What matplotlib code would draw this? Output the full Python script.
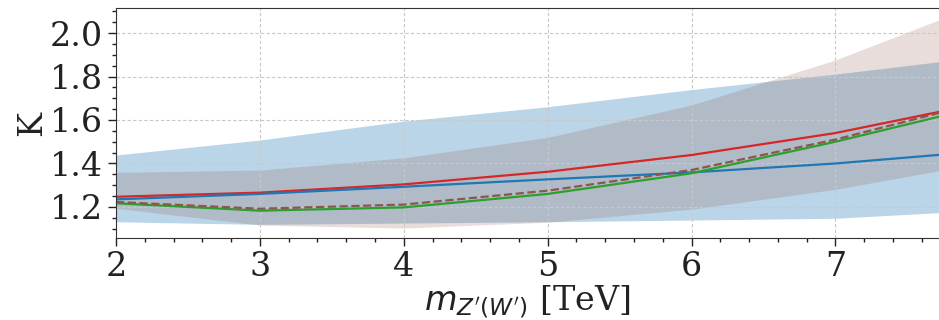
import numpy as np
import matplotlib
matplotlib.use("Agg")
import matplotlib.pyplot as plt
from matplotlib.ticker import MultipleLocator

plt.rcParams['font.family'] = 'DejaVu Serif'

# mass points [TeV]
mass = [2, 3, 4, 5, 6, 7, 8]

# K-factor curves
k_red = [1.247, 1.266, 1.304, 1.362, 1.439, 1.540, 1.675]
k_blue = [1.235, 1.260, 1.293, 1.327, 1.359, 1.400, 1.455]
k_green = [1.217, 1.183, 1.198, 1.260, 1.355, 1.500, 1.660]
k_brown = [1.223, 1.192, 1.211, 1.275, 1.370, 1.510, 1.680]

# uncertainty bands
blue_lo = [1.132, 1.120, 1.126, 1.132, 1.140, 1.148, 1.184]
blue_hi = [1.439, 1.508, 1.595, 1.661, 1.740, 1.811, 1.890]
brown_lo = [1.194, 1.117, 1.103, 1.130, 1.190, 1.281, 1.400]
brown_hi = [1.359, 1.370, 1.426, 1.520, 1.669, 1.876, 2.132]

fig = plt.figure(figsize=(9.39, 3.2), dpi=100)
ax = fig.add_axes([0.1235, 0.256, 0.8765, 0.719])

ax.fill_between(mass, blue_lo, blue_hi, color='tab:blue', alpha=0.3, lw=0)
ax.fill_between(mass, brown_lo, brown_hi, color='tab:brown', alpha=0.2, lw=0)

ax.plot(mass, k_red, color='tab:red', lw=1.6)
ax.plot(mass, k_blue, color='tab:blue', lw=1.6)
ax.plot(mass, k_green, color='tab:green', lw=1.6)
ax.plot(mass, k_brown, color='tab:brown', lw=1.6, ls='--')

ax.set_xlim(2, 7.72)
ax.set_ylim(1.057, 2.115)
ax.xaxis.set_major_locator(MultipleLocator(1))
ax.xaxis.set_minor_locator(MultipleLocator(0.2))
ax.yaxis.set_major_locator(MultipleLocator(0.2))
ax.yaxis.set_minor_locator(MultipleLocator(0.05))

ax.set_axisbelow('line')
ax.grid(True, which='major', ls=(0, (3, 2)), color='#c8c8c8', lw=0.8)
ax.tick_params(which='major', length=6, width=1, direction='out', labelsize=24, colors='#222222')
ax.tick_params(which='minor', length=3, width=1, direction='out', colors='#222222')
for s in ['left', 'bottom', 'top']:
    ax.spines[s].set_color('#333333')
ax.spines['right'].set_visible(False)

ax.set_xlabel(r"$m_{Z'(W')}$ [TeV]", fontsize=24, color='#222222', labelpad=0)
ax.set_ylabel('K', fontsize=24, color='#222222', labelpad=1)

fig.savefig('out.png', dpi=100)
